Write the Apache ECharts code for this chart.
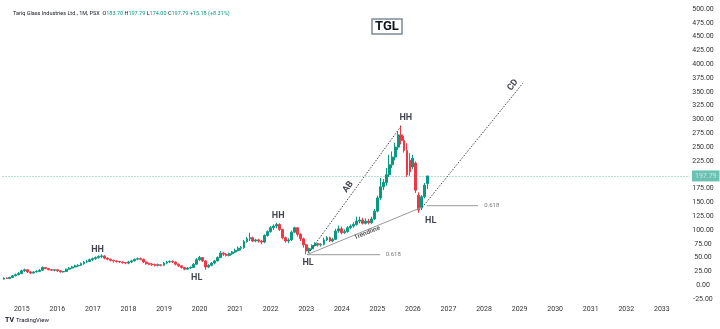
<!DOCTYPE html>
<html><head><meta charset="utf-8">
<script src="https://cdn.jsdelivr.net/npm/echarts@6/dist/echarts.min.js"></script>
<style>html,body{margin:0;padding:0;background:#fff}#c{width:720px;height:329px}</style>
</head><body><div id="c"></div>
<script>
// Monthly candles [open, close, low, high], Jul 2014 .. Jun 2026
const y2014 = [[11,13,10,14],[13,12,11,14],[12,14,11,15],[14,17,13,18],[17,19,16,21],[19,21,18,24]];
const y2015 = [[21,26,20,28],[26,28,24,30],[28,24,22,29],[24,22,20,25],[22,24,21,25],[24,25,23,27],[25,27,24,29],[27,32,26,34],[32,30,29,33],[30,28,27,31],[28,27,26,29],[27,28,25,29]];
const y2016 = [[28,26,24,29],[26,24,23,27],[24,25,23,26],[25,29,24,30],[29,31,28,33],[31,33,30,35],[33,35,32,37],[35,36,33,38],[36,39,35,41],[39,42,37,44],[42,43,40,46],[43,46,42,48]];
const y2017 = [[46,48,44,50],[48,50,46,52],[50,52,48,54],[52,53,49,56],[53,49,47,54],[49,47,45,50],[47,45,43,48],[45,44,41,46],[44,43,41,45],[43,42,40,44],[42,41,39,43],[41,40,38,42]];
const y2018 = [[40,42,38,44],[42,44,40,46],[44,47,43,48],[47,48,45,50],[48,47,45,50],[47,42,40,48],[42,39,37,43],[39,38,36,41],[38,37,35,40],[37,36,34,39],[36,37,34,39],[37,36,34,38]];
const y2019 = [[36,40,35,42],[40,42,38,44],[42,43,40,45],[43,42,40,45],[42,38,36,43],[38,35,33,39],[35,32,30,36],[32,29,27,33],[29,31,28,33],[31,32,29,34],[32,38,31,40],[38,46,37,49]];
const y2020 = [[46,50,44,53],[50,44,42,51],[44,33,28,45],[33,36,31,38],[36,40,34,42],[40,44,38,46],[44,50,43,52],[50,58,49,62],[58,56,53,60],[56,54,52,58],[54,57,52,59],[57,60,55,62]];
const y2021 = [[60,63,58,66],[63,67,61,70],[67,68,63,71],[68,79,66,82],[79,84,77,87],[84,86,80,95],[86,80,78,88],[80,82,78,84],[82,80,77,84],[80,78,74,82],[78,90,76,92],[90,97,88,99]];
const y2022 = [[97,104,95,107],[104,107,100,110],[107,110,103,113],[110,101,98,112],[101,86,83,102],[86,80,77,88],[80,82,76,85],[82,96,80,99],[96,104,94,106],[104,92,88,105],[92,84,80,94],[84,73,68,86]];
const y2023 = [[73,62,56,75],[62,66,59,68],[66,72,64,74],[72,75,70,78],[75,73,70,77],[73,74,70,76],[74,82,72,86],[82,86,80,89],[86,80,78,88],[80,83,78,86],[83,98,82,102],[98,102,95,108]];
const y2024 = [[102,95,92,106],[95,97,93,101],[97,104,95,107],[104,107,101,110],[107,110,104,114],[110,116,108,124],[116,118,112,124],[118,112,110,122],[112,116,110,121],[116,113,110,120],[113,120,111,124],[120,134,118,138]];
const y2025 = [[134,158,132,162],[158,178,154,194],[178,186,172,192],[186,200,180,212],[200,218,196,236],[218,232,212,242],[232,250,226,258],[250,272,245,278],[272,262,255,289],[262,244,240,270],[244,200,196,257],[226,205,198,239]];
const y2026 = [[214,230,210,236],[221,172,167,224],[163,136,131,168],[140,160,136,163],[160,181,157,185],[183.70,197.79,174.00,197.79]];

const lastPrice = 197.79;
const headerText = 'Tariq Glass Industries Ltd., 1M, PSX';
const headerVals = ['183.70','197.79','174.00','197.79','+15.18 (+8.31%)'];

// Annotations in (decimal year, price); year.0 = January
const abLine    = [[2023.06, 57.7], [2025.69, 290]];
const cdLine    = [[2026.26, 140.7], [2029.09, 365.5]];
const trendLine = [[2023.02, 55.2], [2026.25, 141]];
const fibLow    = [[2023.02, 55.2], [2025.08, 55.2]];
const fibHigh   = [[2026.39, 143.9], [2027.83, 143.9]];
const pivotLabels = [['HH',2017.13,63.7],['HL',2019.92,13.6],['HH',2022.21,125.8],['HL',2023.05,40.7],['HH',2025.80,304],['HL',2026.50,116.2]];
const lineLabels = [['AB',2024.175,177.8,54],['CD',2028.81,362.4,51],['Trendline',2024.71,94.6,22]];
const fibLabels = [['0.618',2025.22,55.2],['0.618',2027.99,143.9]];

const candles = [].concat(y2014,y2015,y2016,y2017,y2018,y2019,y2020,y2021,y2022,y2023,y2024,y2025,y2026);
const months = [];
for (let i = 0; i < 232; i++) {
  const y = 2014 + Math.floor((6 + i) / 12), m = (6 + i) % 12 + 1;
  months.push(y + '-' + (m < 10 ? '0' + m : m));
}
const UP = '#089981', DN = '#f23645', FONT = 'Roboto, "Noto Sans", sans-serif';

const chart = echarts.init(document.getElementById('c'), null, {renderer:'canvas'});
chart.setOption({
  animation:false,
  backgroundColor:'#ffffff',
  textStyle:{fontFamily:FONT},
  title:[
    {left:8, top:6, text:'{n|'+headerText+'}  {k|O}{v|'+headerVals[0]+'} {k|H}{v|'+headerVals[1]+'} {k|L}{v|'+headerVals[2]+'} {k|C}{v|'+headerVals[3]+'} {v|'+headerVals[4]+'}',
     textStyle:{fontSize:5.5, fontWeight:'normal', rich:{n:{fontSize:5.5,color:'#131722',fontFamily:FONT},k:{fontSize:5.5,color:'#131722',fontFamily:FONT},v:{fontSize:5.5,color:UP,fontFamily:FONT}}}},
    {left:372, top:19, text:'TGL', padding:[1,3], borderColor:'#7d8a98', borderWidth:1.5, backgroundColor:'#fff',
     textStyle:{fontSize:13, fontWeight:'bold', color:'#131722', fontFamily:FONT}}
  ],
  grid:{left:2.5, right:30, top:9, bottom:30},
  xAxis:[
    {type:'category', data:months, boundaryGap:true, axisLine:{show:false}, axisTick:{show:false}, splitLine:{show:false},
     axisLabel:{interval:(i,v)=>v.endsWith('-01'), formatter:v=>v.slice(0,4), fontSize:7, color:'#333', margin:7}},
    {type:'value', min:2014.5-1/24, max:2014.5+231.5/12, show:false}
  ],
  yAxis:{type:'value', position:'right', min:-25, max:500, interval:25, splitLine:{show:false}, axisLine:{show:false}, axisTick:{show:false},
    axisLabel:{fontSize:7, color:'#333', margin:13, align:'center', formatter:v=> v===200 ? '' : v.toFixed(2)}},
  series:[
    {type:'candlestick', data:candles, barWidth:'80%',
     itemStyle:{color:UP, color0:DN, borderColor:UP, borderColor0:DN, borderWidth:1},
     markLine:{symbol:'none', silent:true, data:[{yAxis:lastPrice}],
       lineStyle:{type:[1,2], color:UP, width:1, opacity:0.6},
       label:{show:true, position:'end', formatter:lastPrice.toFixed(2), color:'#fff', backgroundColor:UP, fontSize:7, padding:[2,3], distance:2}}},
    {type:'line', xAxisIndex:1, data:abLine, symbol:'none', silent:true, lineStyle:{type:[1.5,1.5], color:'#444', width:1}},
    {type:'line', xAxisIndex:1, data:cdLine, symbol:'none', silent:true, lineStyle:{type:[1.5,1.5], color:'#444', width:1}},
    {type:'line', xAxisIndex:1, data:trendLine, symbol:'none', silent:true, lineStyle:{color:'#999', width:1}},
    {type:'line', xAxisIndex:1, data:fibLow, symbol:'none', silent:true, lineStyle:{color:'#999', width:1}},
    {type:'line', xAxisIndex:1, data:fibHigh, symbol:'none', silent:true, lineStyle:{color:'#999', width:1}},
    {type:'scatter', xAxisIndex:1, symbolSize:1, itemStyle:{color:'transparent'}, silent:true,
     data:pivotLabels.map(p=>({value:[p[1],p[2]], label:{show:true, position:'inside', formatter:p[0], fontSize:9, fontWeight:'bold', color:'#131722'}}))},
    {type:'scatter', xAxisIndex:1, symbolSize:1, itemStyle:{color:'transparent'}, silent:true,
     data:lineLabels.map(p=>({value:[p[1],p[2]], label:{show:true, position:'inside', rotate:p[3], formatter:p[0],
        fontSize:p[0]==='Trendline'?6.5:9, fontWeight:'bold', color:p[0]==='Trendline'?'#333':'#131722'}}))},
    {type:'scatter', xAxisIndex:1, symbolSize:1, itemStyle:{color:'transparent'}, silent:true,
     data:fibLabels.map(p=>({value:[p[1],p[2]], label:{show:true, position:'right', distance:0, formatter:p[0], fontSize:6, color:'#555'}}))}
  ],
  graphic:[
    {type:'text', left:5, top:317, style:{text:'TV', font:'bold 7px '+FONT, fill:'#131722'}},
    {type:'text', left:16, top:317, style:{text:'TradingView', font:'6px '+FONT, fill:'#131722'}}
  ]
});
</script></body></html>
